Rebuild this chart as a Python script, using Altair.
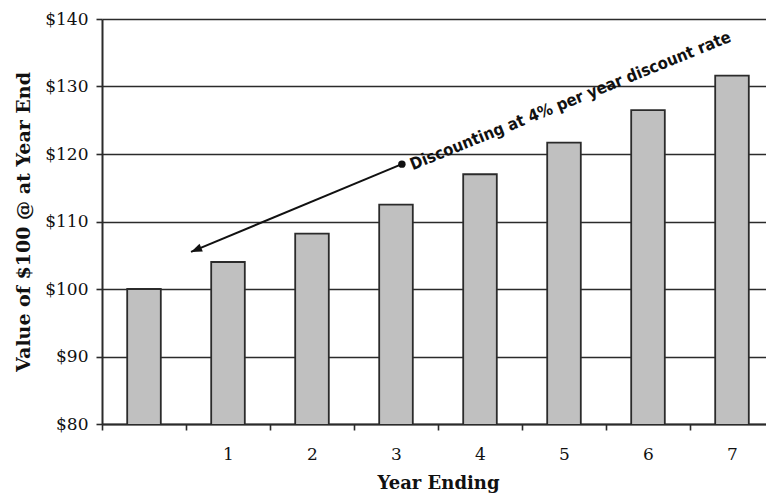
import altair as alt
import pandas as pd

# Value of $100 at the end of each year, growing at 4% per year
years = ["0", "1", "2", "3", "4", "5", "6", "7"]
values = [100.0, 104.0, 108.2, 112.5, 117.0, 121.7, 126.5, 131.6]

# Annotation geometry in data units (x: year slots from the left edge, y: dollars)
arrow_tail = (3.57, 118.5)
arrow_tip = (1.06, 105.5)
note_anchor = (3.70, 117.6)
note_text = "Discounting at 4% per year discount rate"

y_ticks = [80, 90, 100, 110, 120, 130, 140]

bars_df = pd.DataFrame({"year": years, "value": values})
line_df = pd.DataFrame({"x": [arrow_tail[0]], "y": [arrow_tail[1]],
                        "x2": [arrow_tip[0]], "y2": [arrow_tip[1]]})
tail_df = pd.DataFrame({"x": [arrow_tail[0]], "y": [arrow_tail[1]]})
tip_df = pd.DataFrame({"x": [arrow_tip[0]], "y": [arrow_tip[1]]})
note_df = pd.DataFrame({"x": [note_anchor[0]], "y": [note_anchor[1]], "t": [note_text]})

SERIF = "DejaVu Serif"
INK = "#2b2b2b"
X_RANGE = [0, 672]

y_scale = alt.Scale(domain=[80, 140], nice=False, zero=False)
y_axis = alt.Axis(
    values=y_ticks,
    labelExpr="'$' + datum.value",
    title="Value of $100 @ at Year End",
    grid=True, gridColor=INK, gridWidth=1.6,
    domainColor=INK, domainWidth=2,
    tickColor=INK, tickSize=6, tickWidth=1.6,
    labelFont=SERIF, labelFontSize=17, labelColor="#111", labelPadding=8,
    titleFont=SERIF, titleFontSize=19, titleFontWeight="bold", titleColor="#111",
    titlePadding=11,
)

bars = alt.Chart(bars_df).mark_bar(
    width=alt.RelativeBandSize(0.4), clip=True,
    color="#c0c0c0", stroke=INK, strokeWidth=1.8,
).encode(
    x=alt.X("year:N", sort=years,
            scale=alt.Scale(range=X_RANGE, paddingInner=0, paddingOuter=0),
            axis=alt.Axis(
                title="Year Ending", labelAngle=0, tickBand="extent",
                labelExpr="datum.value == '0' ? '' : datum.value",
                grid=False, domainColor=INK, domainWidth=2,
                tickColor=INK, tickSize=6, tickWidth=1.6,
                labelFont=SERIF, labelFontSize=17, labelColor="#111", labelPadding=16,
                titleFont=SERIF, titleFontSize=18, titleFontWeight="bold",
                titleColor="#111", titlePadding=12,
            )),
    y=alt.Y("value:Q", scale=y_scale, axis=y_axis),
)

ax_x = alt.Scale(domain=[0, 8], range=X_RANGE, nice=False, zero=False)

arrow_line = alt.Chart(line_df).mark_rule(color="#111", strokeWidth=2).encode(
    x=alt.X("x:Q", scale=ax_x, axis=None),
    y=alt.Y("y:Q", scale=y_scale),
    x2="x2:Q", y2="y2:Q",
)

arrow_dot = alt.Chart(tail_df).mark_point(
    shape="circle", filled=True, size=55, color="#111", opacity=1
).encode(
    x=alt.X("x:Q", scale=ax_x, axis=None),
    y=alt.Y("y:Q", scale=y_scale),
)

# Arrowhead: a triangle whose point sits at the origin, rotated toward lower left
arrow_head = alt.Chart(tip_df).mark_point(
    shape="M0,0 L-0.38,1 L0.38,1 Z", filled=True, size=484, color="#111",
    opacity=1, angle=247,
).encode(
    x=alt.X("x:Q", scale=ax_x, axis=None),
    y=alt.Y("y:Q", scale=y_scale),
)

note = alt.Chart(note_df).mark_text(
    align="left", baseline="alphabetic", angle=338,
    font="DejaVu Sans Condensed, sans-serif", fontWeight="bold",
    fontSize=16.5, color="#111",
).encode(
    x=alt.X("x:Q", scale=ax_x, axis=None),
    y=alt.Y("y:Q", scale=y_scale),
    text="t:N",
)

chart = alt.layer(bars, arrow_line, arrow_dot, arrow_head, note).resolve_scale(
    x="independent"
).properties(
    width=664, height=405,
    autosize=alt.AutoSizeParams(type="none"),
    padding={"left": 102, "top": 19, "right": 0, "bottom": 69},
    background="white",
).configure_view(stroke=None)

chart.save("out.html", embed_options={"renderer": "svg", "actions": False})
